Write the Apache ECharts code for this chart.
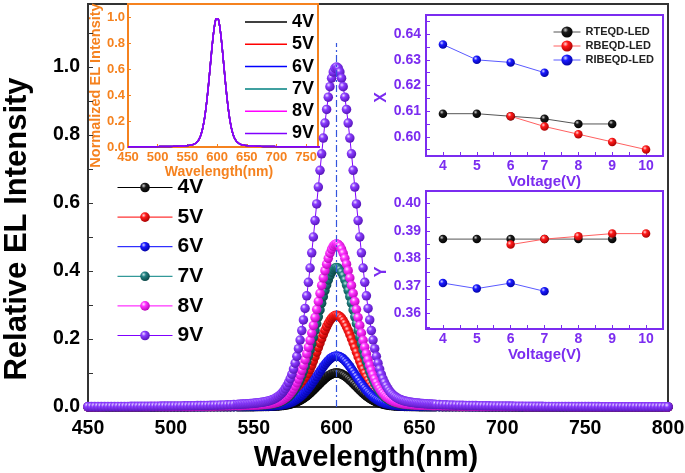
<!DOCTYPE html>
<html><head><meta charset="utf-8">
<script src="https://cdn.jsdelivr.net/npm/echarts@6/dist/echarts.min.js"></script>
<style>html,body{margin:0;padding:0;background:#fff}#c{width:685px;height:473px}</style>
</head><body><div id="c"></div>
<script>
// ---------- DATA ----------
const WAVELENGTH = [
450,452,454,456,458,460,462,464,466,468,470,472,474,476,478,480,482,484,486,488,490,492,494,496,498,500,502,504,506,508,510,512,514,516,518,520,522,524,526,528,530,532,534,536,538,
540,541,542,543,544,545,546,547,548,549,550,551,552,553,554,555,556,557,558,559,560,561,562,563,564,565,566,567,568,569,570,571,572,573,574,575,576,577,578,579,580,581,582,583,584,585,586,587,588,589,590,591,592,593,594,595,596,597,598,599,600,601,602,603,604,605,606,607,608,609,610,611,612,613,614,615,616,617,618,619,620,621,622,623,624,625,626,627,628,629,630,631,632,633,634,635,636,637,638,639,640,641,642,643,644,645,646,647,648,649,650,651,652,653,654,655,656,657,658,659,660,
662,664,666,668,670,672,674,676,678,680,682,684,686,688,690,692,694,696,698,700,702,704,706,708,710,712,714,716,718,720,722,724,726,728,730,732,734,736,738,740,742,744,746,748,750,752,754,756,758,760,762,764,766,768,770,772,774,776,778,780,782,784,786,788,790,792,794,796,798,800];
// normalized EL spectrum (inset, identical for every voltage)
const NORM_EL = [
.0013,.0013,.0014,.0014,.0014,.0015,.0015,.0016,.0016,.0017,.0017,.0018,.0018,.0019,.0020,.0020,.0021,.0022,.0022,.0023,.0024,.0025,.0026,.0027,.0028,.0029,.0030,.0031,.0033,.0034,.0035,.0037,.0039,.0041,.0042,.0045,.0047,.0049,.0052,.0055,.0058,.0061,.0065,.0068,.0073,
.0077,.0080,.0083,.0085,.0088,.0091,.0095,.0098,.0101,.0105,.0109,.0115,.0120,.0125,.0132,.0139,.0147,.0156,.0166,.0179,.0193,.0210,.0231,.0255,.0284,.0318,.0360,.0409,.0468,.0538,.0620,.0718,.0831,.0963,.1115,.1290,.1489,.1714,.1967,.2247,.2559,.2899,.3268,.3665,.4087,.4533,.4999,.5481,.5972,.6468,.6960,.7445,.7909,.8348,.8751,.9111,.9419,.9668,.9851,.9962,
1.0000,
.9962,.9851,.9668,.9419,.9111,.8751,.8348,.7909,.7445,.6960,.6468,.5972,.5481,.4999,.4533,.4087,.3665,.3268,.2899,.2559,.2247,.1967,.1714,.1489,.1290,.1115,.0963,.0831,.0718,.0620,.0538,.0468,.0409,.0360,.0318,.0284,.0255,.0231,.0210,.0193,.0179,.0166,.0156,.0147,.0139,.0132,.0125,.0120,.0115,.0109,.0105,.0101,.0098,.0095,.0091,.0088,.0085,.0083,.0080,.0077,
.0073,.0068,.0065,.0061,.0058,.0055,.0052,.0049,.0047,.0045,.0042,.0041,.0039,.0037,.0035,.0034,.0033,.0031,.0030,.0029,.0028,.0027,.0026,.0025,.0024,.0023,.0022,.0022,.0021,.0020,.0020,.0019,.0018,.0018,.0017,.0017,.0016,.0016,.0015,.0015,.0014,.0014,.0014,.0013,.0013,.0013,.0012,.0012,.0012,.0011,.0011,.0011,.0011,.0010,.0010,.0010,.0010,.0009,.0009,.0009,.0009,.0009,.0008,.0008,.0008,.0008,.0008,.0008,.0007,.0007];
const VOLTAGES = ['4V','5V','6V','7V','8V','9V'];
const PEAK_EL = [0.10, 0.27, 0.15, 0.41, 0.48, 1.00];   // peak relative EL intensity per voltage
const PEAK_WL = 600;
const PEAK_LINE_TOP = 1.07;

const CIE_VOLT = [4,5,6,7,8,9,10];
const LED_NAMES = ['RTEQD-LED','RBEQD-LED','RIBEQD-LED'];
const CIE_X_RTEQD  = [0.609,0.609,0.608,0.607,0.605,0.605,null];
const CIE_X_RBEQD  = [null,null,0.608,0.604,0.601,0.598,0.595];
const CIE_X_RIBEQD = [0.636,0.630,0.629,0.625,null,null,null];
const CIE_Y_RTEQD  = [0.387,0.387,0.387,0.387,0.387,0.387,null];
const CIE_Y_RBEQD  = [null,null,0.385,0.387,0.388,0.389,0.389];
const CIE_Y_RIBEQD = [0.371,0.369,0.371,0.368,null,null,null];

// tick labels
const MAIN_X_LABELS = [450,500,550,600,650,700,750,800];
const MAIN_Y_LABELS = [0,0.2,0.4,0.6,0.8,1.0];
const MAIN_Y_TICKS = [0,0.1,0.2,0.3,0.4,0.5,0.6,0.7,0.8,0.9,1.0,1.1];
const INSET_X_LABELS = [450,500,550,600,650,700,750];
const INSET_Y_LABELS = [0,0.2,0.4,0.6,0.8,1.0];
const VOLT_LABELS = [4,5,6,7,8,9,10];
const VOLT_TICKS = [4,4.5,5,5.5,6,6.5,7,7.5,8,8.5,9,9.5,10];
const CIEX_LABELS = [0.60,0.61,0.62,0.63,0.64];
const CIEX_TICKS = [0.595,0.60,0.605,0.61,0.615,0.62,0.625,0.63,0.635,0.64,0.645];
const CIEY_LABELS = [0.36,0.37,0.38,0.39,0.40];
const CIEY_TICKS = [0.355,0.36,0.365,0.37,0.375,0.38,0.385,0.39,0.395,0.40];

// ---------- STYLE ----------
const FONT = '"Liberation Sans", Arial, sans-serif';
const ORANGE = '#f5821f', VIOLET = '#7b2cf0', FRAME = '#333';
const LINE_COLORS = ['#000000','#ff0000','#0000ff','#008080','#ff00ff','#8000ff'];
const SPHERES = [
  ['#1a1a1a','#d0d0d0','#000000'],
  ['#ff1a1a','#ffd8d8','#a00000'],
  ['#1a1aff','#d8d8ff','#00009a'],
  ['#1f7f7f','#c8e6e6','#0a4040'],
  ['#ff33ff','#ffe6ff','#b000b0'],
  ['#8a3cff','#eee0ff','#5010b0']];
const LED_COLORS = ['#555555','#ff6060','#5a5aff'];
const LED_SPHERES = [SPHERES[0], SPHERES[1], SPHERES[2]];
function sphere(c){
  return new echarts.graphic.RadialGradient(0.36,0.32,0.75,[
    {offset:0,color:c[1]},{offset:0.32,color:c[0]},{offset:1,color:c[2]}]);
}
function bold(size,color,extra){ return Object.assign({fontFamily:FONT,fontWeight:'bold',fontSize:size,color:color},extra||{}); }

const chart = echarts.init(document.getElementById('c'), null, {renderer:'canvas'});

const series = [];
VOLTAGES.forEach((v,k)=>{
  const s = {
    name:v, type:'line', xAxisIndex:0, yAxisIndex:0,
    data: WAVELENGTH.map((w,i)=>[w, NORM_EL[i]*PEAK_EL[k]]),
    symbol:'circle', symbolSize:9.5, showAllSymbol:true,
    lineStyle:{color:LINE_COLORS[k], width:1},
    itemStyle:{color:sphere(SPHERES[k])},
    emphasis:{disabled:true}, silent:true
  };
  if (k === VOLTAGES.length-1) {
    s.markLine = {symbol:'none', silent:true, label:{show:false},
      lineStyle:{color:'#3355dd', width:1.2, type:[7,3,2,3]},
      data:[[{coord:[PEAK_WL,0]},{coord:[PEAK_WL,PEAK_LINE_TOP]}]]};
  }
  series.push(s);
});
VOLTAGES.forEach((v,k)=>{
  series.push({name:'i'+v, type:'line', xAxisIndex:1, yAxisIndex:1,
    data: WAVELENGTH.map((w,i)=>[w, NORM_EL[i]]),
    symbol:'none', lineStyle:{color:LINE_COLORS[k], width:1.5},
    itemStyle:{color:LINE_COLORS[k]}, emphasis:{disabled:true}, silent:true});
});
function ciePairs(arr){ return CIE_VOLT.map((v,i)=>[v,arr[i]]).filter(p=>p[1]!==null); }
[[CIE_X_RTEQD,CIE_Y_RTEQD],[CIE_X_RBEQD,CIE_Y_RBEQD],[CIE_X_RIBEQD,CIE_Y_RIBEQD]].forEach((pair,k)=>{
  [0,1].forEach(j=>{
    series.push({name:LED_NAMES[k], type:'line', xAxisIndex:2+j, yAxisIndex:2+j,
      data: ciePairs(pair[j]), symbol:'circle', symbolSize:8.5,
      lineStyle:{color:LED_COLORS[k], width:1},
      itemStyle:{color:sphere(LED_SPHERES[k])}, emphasis:{disabled:true}, silent:true});
  });
});

function valAxis(o){ return Object.assign({type:'value', splitLine:{show:false}}, o); }

const option = {
  animation:false,
  backgroundColor:'#fff',
  grid:[
    {left:88, top:4, right:17, bottom:66, show:true, borderColor:FRAME, borderWidth:2, containLabel:false, outerBoundsMode:'none'},
    {left:128, top:4, width:190, height:143, show:true, borderColor:ORANGE, borderWidth:2, backgroundColor:'#fff', containLabel:false, outerBoundsMode:'none'},
    {left:426, top:15, width:237, height:141, show:true, borderColor:VIOLET, borderWidth:2, backgroundColor:'#fff', containLabel:false, outerBoundsMode:'none'},
    {left:426, top:191, width:237, height:138, show:true, borderColor:VIOLET, borderWidth:2, backgroundColor:'#fff', containLabel:false, outerBoundsMode:'none'}
  ],
  xAxis:[
    valAxis({gridIndex:0, min:450, max:800, interval:50,
      axisLine:{lineStyle:{color:FRAME,width:2}},
      axisTick:{inside:true,length:5,lineStyle:{color:FRAME}},
      axisLabel:Object.assign(bold(19.5,'#000'),{margin:12, customValues:MAIN_X_LABELS}),
      name:'Wavelength(nm)', nameLocation:'middle', nameGap:31,
      nameTextStyle:bold(29,'#000',{padding:[0,24,0,0]})}),
    valAxis({gridIndex:1, min:450, max:770,
      axisLine:{lineStyle:{color:ORANGE,width:2}},
      axisTick:{inside:true,length:3,customValues:INSET_X_LABELS,lineStyle:{color:ORANGE}},
      axisLabel:Object.assign(bold(13,ORANGE),{margin:4, customValues:INSET_X_LABELS}),
      name:'Wavelength(nm)', nameLocation:'middle', nameGap:17,
      nameTextStyle:bold(14,ORANGE,{padding:[0,8,0,0]})}),
    valAxis({gridIndex:2, min:3.5, max:10.5,
      axisLine:{lineStyle:{color:VIOLET,width:2}},
      axisTick:{inside:true,length:4,customValues:VOLT_TICKS,lineStyle:{color:VIOLET}},
      axisLabel:Object.assign(bold(14,VIOLET),{margin:3, customValues:VOLT_LABELS}),
      name:'Voltage(V)', nameLocation:'middle', nameGap:16,
      nameTextStyle:bold(15,VIOLET)}),
    valAxis({gridIndex:3, min:3.5, max:10.5,
      axisLine:{lineStyle:{color:VIOLET,width:2}},
      axisTick:{inside:true,length:4,customValues:VOLT_TICKS,lineStyle:{color:VIOLET}},
      axisLabel:Object.assign(bold(14,VIOLET),{margin:3, customValues:VOLT_LABELS}),
      name:'Voltage(V)', nameLocation:'middle', nameGap:16,
      nameTextStyle:bold(15,VIOLET)})
  ],
  yAxis:[
    valAxis({gridIndex:0, min:0, max:1.185,
      axisLine:{show:true,lineStyle:{color:FRAME,width:2}},
      axisTick:{show:true,inside:true,length:5,customValues:MAIN_Y_TICKS,lineStyle:{color:FRAME}},
      axisLabel:Object.assign(bold(19.5,'#000'),{margin:8, customValues:MAIN_Y_LABELS, formatter:v=>v.toFixed(1)}),
      name:'Relative EL Intensity', nameLocation:'middle', nameGap:55,
      nameTextStyle:bold(31,'#000',{padding:[0,47,0,0]})}),
    valAxis({gridIndex:1, min:0, max:1.1,
      axisLine:{show:true,lineStyle:{color:ORANGE,width:2}},
      axisTick:{show:true,inside:true,length:3,customValues:INSET_Y_LABELS,lineStyle:{color:ORANGE}},
      axisLabel:Object.assign(bold(13,ORANGE),{margin:3, customValues:INSET_Y_LABELS, formatter:v=>v.toFixed(1)}),
      name:'Normalized EL Intensity', nameLocation:'middle', nameGap:25,
      nameTextStyle:bold(14.5,ORANGE,{padding:[0,20,0,0]})}),
    valAxis({gridIndex:2, min:0.5925, max:0.6475,
      axisLine:{show:true,lineStyle:{color:VIOLET,width:2}},
      axisTick:{show:true,inside:true,length:4,customValues:CIEX_TICKS,lineStyle:{color:VIOLET}},
      axisLabel:Object.assign(bold(14,VIOLET),{margin:5, customValues:CIEX_LABELS, formatter:v=>v.toFixed(2)}),
      name:'X', nameLocation:'middle', nameGap:30,
      nameTextStyle:bold(16,VIOLET,{padding:[0,24,0,0]})}),
    valAxis({gridIndex:3, min:0.3543, max:0.4045,
      axisLine:{show:true,lineStyle:{color:VIOLET,width:2}},
      axisTick:{show:true,inside:true,length:4,customValues:CIEY_TICKS,lineStyle:{color:VIOLET}},
      axisLabel:Object.assign(bold(14,VIOLET),{margin:5, customValues:CIEY_LABELS, formatter:v=>v.toFixed(2)}),
      name:'Y', nameLocation:'middle', nameGap:30,
      nameTextStyle:bold(16,VIOLET,{padding:[0,24,0,0]})})
  ],
  legend:[
    {data:VOLTAGES, orient:'vertical', left:117, top:177, padding:0, itemWidth:55, itemHeight:12, itemGap:8.6,
     lineStyle:{width:1}, selectedMode:false, textStyle:bold(21,'#000',{lineHeight:20})},
    {data:VOLTAGES.map(v=>'i'+v), formatter:n=>n.slice(1), orient:'vertical', left:245, top:13, padding:0,
     icon:'rect', itemWidth:42, itemHeight:1.5, itemGap:4.3, selectedMode:false,
     textStyle:bold(18,'#000',{lineHeight:18})},
    {data:LED_NAMES, orient:'vertical', left:553, top:25, padding:0, itemWidth:27, itemHeight:14, itemGap:0,
     lineStyle:{width:1}, selectedMode:false, textStyle:bold(11,'#222',{lineHeight:14})}
  ],
  series:series
};
chart.setOption(option);
</script></body></html>
